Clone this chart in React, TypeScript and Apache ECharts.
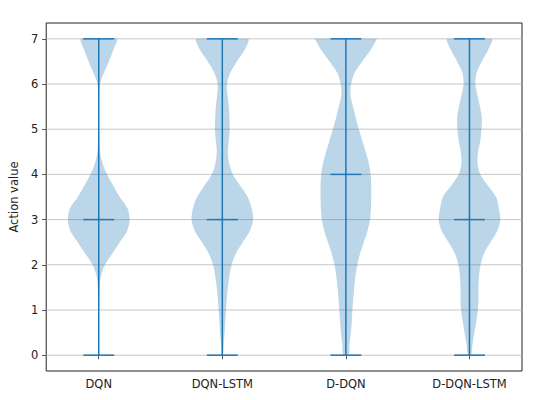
import React, { useEffect, useRef } from "react";
import * as echarts from "echarts";

const categories = ["DQN", "DQN-LSTM", "D-DQN", "D-DQN-LSTM"];
const positions = [1, 2, 3, 4];
const mins = [0, 0, 0, 0];
const maxs = [7, 7, 7, 7];
const medians = [3, 3, 4, 3];
const yTicks = [0, 1, 2, 3, 4, 5, 6, 7];

// KDE profile sample heights (0 → 7, step 0.25)
const yLevels = [
  0, 0.25, 0.5, 0.75, 1, 1.25, 1.5, 1.75, 2, 2.25, 2.5, 2.75, 3, 3.25, 3.5,
  3.75, 4, 4.25, 4.5, 4.75, 5, 5.25, 5.5, 5.75, 6, 6.25, 6.5, 6.75, 7,
];

// relative violin widths (1 = widest)
const widthDQN = [
  0.003, 0.004, 0.005, 0.007, 0.01, 0.015, 0.03, 0.07, 0.2, 0.44, 0.68, 0.92,
  1.0, 0.93, 0.68, 0.47, 0.27, 0.12, 0.04, 0.02, 0.012, 0.01, 0.01, 0.015,
  0.04, 0.17, 0.33, 0.47, 0.57,
];
const widthDQNLSTM = [
  0.02, 0.045, 0.075, 0.095, 0.12, 0.145, 0.18, 0.23, 0.3, 0.44, 0.66, 0.89,
  1.0, 0.95, 0.82, 0.58, 0.34, 0.22, 0.18, 0.21, 0.24, 0.23, 0.21, 0.17, 0.15,
  0.26, 0.47, 0.72, 0.83,
];
const widthDDQN = [
  0.08, 0.12, 0.16, 0.19, 0.21, 0.24, 0.27, 0.31, 0.37, 0.46, 0.58, 0.7, 0.78,
  0.81, 0.82, 0.82, 0.8, 0.74, 0.64, 0.53, 0.42, 0.32, 0.23, 0.15, 0.17, 0.28,
  0.53, 0.8, 1.0,
];
const widthDDQNLSTM = [
  0.05, 0.1, 0.16, 0.22, 0.27, 0.29, 0.29, 0.31, 0.36, 0.47, 0.68, 0.9, 1.0,
  0.95, 0.86, 0.6, 0.35, 0.26, 0.28, 0.35, 0.39, 0.4, 0.34, 0.26, 0.19, 0.23,
  0.4, 0.6, 0.71,
];
const violinWidths = [widthDQN, widthDQNLSTM, widthDDQN, widthDDQNLSTM];

const X_MIN = 0.575;
const X_MAX = 4.425;
const HALF = 0.25;
const CAP = 0.125;
const BLUE = "#1f77b4";
const TXT = "#222222";
const FONT = "DejaVu Sans";
const FS = 11.5;

export default function App() {
  const ref = useRef<HTMLDivElement>(null);

  useEffect(() => {
    if (!ref.current) return;
    const chart = echarts.init(ref.current, null, { renderer: "svg" });

    const option: any = {
      animation: false,
      backgroundColor: "#ffffff",
      textStyle: { fontFamily: FONT },
      grid: {
        left: 42,
        right: 28,
        top: 23,
        bottom: 29,
        show: true,
        borderColor: "#222",
        borderWidth: 1,
        backgroundColor: "transparent",
      },
      xAxis: {
        type: "value",
        min: X_MIN,
        max: X_MAX,
        axisLine: { show: false },
        splitLine: { show: false },
        axisTick: {
          show: true,
          customValues: positions,
          length: 4,
          lineStyle: { color: "#222", width: 0.8 },
        },
        axisLabel: {
          customValues: positions,
          formatter: (v: number) => categories[Math.round(v) - 1] ?? "",
          color: TXT,
          fontSize: FS,
          fontFamily: FONT,
          margin: 7,
        },
      },
      yAxis: {
        type: "value",
        min: -0.35,
        max: 7.35,
        name: "Action value",
        nameLocation: "middle",
        nameGap: 22,
        nameTextStyle: { color: TXT, fontSize: FS, fontFamily: FONT },
        axisLine: { show: false },
        splitLine: { show: false },
        axisTick: {
          show: true,
          customValues: yTicks,
          length: 4,
          lineStyle: { color: "#222", width: 0.8 },
        },
        axisLabel: {
          customValues: yTicks,
          color: TXT,
          fontSize: FS,
          fontFamily: FONT,
          margin: 8,
        },
      },
      series: [
        {
          type: "custom",
          z: 1,
          silent: true,
          data: yTicks.map((v) => [X_MIN, v]),
          encode: { x: 0, y: 1 },
          renderItem: (_p: any, api: any) => {
            const v = api.value(1);
            const a = api.coord([X_MIN, v]);
            const b = api.coord([X_MAX, v]);
            return {
              type: "line",
              shape: { x1: a[0], y1: a[1], x2: b[0], y2: b[1] },
              style: { stroke: "#b8b8b8", lineWidth: 0.8 },
            };
          },
        },
        {
          type: "custom",
          z: 2,
          silent: true,
          data: positions.map((p, i) => [p, medians[i], i]),
          encode: { x: 0, y: 1 },
          renderItem: (_p: any, api: any) => {
            const i = api.value(2);
            const pos = positions[i];
            const w = violinWidths[i];
            const right: number[][] = [];
            const left: number[][] = [];
            for (let j = 0; j < yLevels.length; j++) {
              const h = w[j] * HALF;
              right.push(api.coord([pos + h, yLevels[j]]));
              left.push(api.coord([pos - h, yLevels[j]]));
            }
            const pts = right.concat(left.reverse());
            let x0 = Infinity, y0 = Infinity, x1 = -Infinity, y1 = -Infinity;
            for (const p of pts) {
              x0 = Math.min(x0, p[0]);
              y0 = Math.min(y0, p[1]);
              x1 = Math.max(x1, p[0]);
              y1 = Math.max(y1, p[1]);
            }
            const seg = (a1: number, b1: number, a2: number, b2: number) => {
              const a = api.coord([a1, b1]);
              const b = api.coord([a2, b2]);
              return {
                type: "line",
                shape: { x1: a[0], y1: a[1], x2: b[0], y2: b[1] },
                style: { stroke: BLUE, lineWidth: 1.5 },
              };
            };
            return {
              type: "group",
              children: [
                {
                  type: "polygon",
                  shape: {
                    points: pts,
                    smooth: 0.3,
                    smoothConstraint: [
                      [x0, y0],
                      [x1, y1],
                    ],
                  },
                  style: { fill: "rgba(31,119,180,0.3)", stroke: "none" },
                },
                seg(pos, mins[i], pos, maxs[i]),
                seg(pos - CAP, mins[i], pos + CAP, mins[i]),
                seg(pos - CAP, maxs[i], pos + CAP, maxs[i]),
                seg(pos - CAP, medians[i], pos + CAP, medians[i]),
              ],
            };
          },
        },
      ],
    };

    chart.setOption(option);
    return () => chart.dispose();
  }, []);

  return (
    <div
      ref={ref}
      style={{ position: "fixed", left: 0, top: 0, width: 550, height: 400 }}
    />
  );
}
